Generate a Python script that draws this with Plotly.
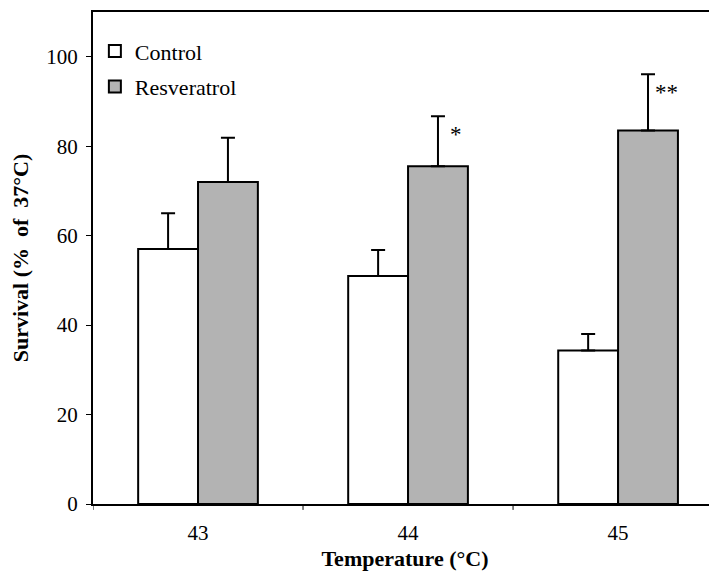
import plotly.graph_objects as go

temperatures = ["43", "44", "45"]
control = [57.0, 51.0, 34.3]
control_err = [8.0, 5.8, 3.7]
resveratrol = [72.0, 75.5, 83.5]
resveratrol_err = [9.9, 11.2, 12.6]
significance = ["", "*", "**"]

FONT = "Liberation Serif"

fig = go.Figure()
fig.add_trace(go.Bar(
    name="Control", x=temperatures, y=control,
    marker=dict(color="white", line=dict(color="black", width=2)),
    error_y=dict(type="data", symmetric=False, array=control_err,
                 arrayminus=[0] * len(control), color="black", thickness=2, width=7),
    legendgroup="a",
))
fig.add_trace(go.Bar(
    name="Resveratrol", x=temperatures, y=resveratrol,
    marker=dict(color="#b3b3b3", line=dict(color="black", width=2)),
    error_y=dict(type="data", symmetric=False, array=resveratrol_err,
                 arrayminus=[0] * len(resveratrol), color="black", thickness=2, width=7),
    legendgroup="b",
))

for i, s in enumerate(significance):
    if s:
        fig.add_annotation(
            x=i, xshift=48, y=resveratrol[i] + resveratrol_err[i], yshift=-18,
            text=s, showarrow=False,
            font=dict(family=FONT, size=23, color="black"),
        )

# page body has an 8px default margin, so the figure is sized 8px smaller
fig.update_layout(
    width=709, height=563,
    margin=dict(l=85, r=0, t=4, b=67, autoexpand=False),
    paper_bgcolor="white", plot_bgcolor="white",
    barmode="group", bargap=0.43, bargroupgap=0,
    font=dict(family=FONT, size=21, color="black"),
    showlegend=True,
    legend=dict(x=0.003, y=0.963, xanchor="left", yanchor="top",
                bgcolor="rgba(0,0,0,0)", font=dict(family=FONT, size=22),
                tracegroupgap=4, itemwidth=30),
    xaxis=dict(
        range=[-0.5, 2.471], automargin=False,
        showline=True, linecolor="black", linewidth=2, mirror=True,
        ticks="", showgrid=False,
        tickfont=dict(family=FONT, size=21),
        ticklabelstandoff=9,
        title=dict(text="<b>Temperature (°C)</b>", font=dict(family=FONT, size=22), standoff=14),
    ),
    yaxis=dict(
        range=[0, 110], tickvals=[0, 20, 40, 60, 80, 100], automargin=False,
        showline=True, linecolor="black", linewidth=2,
        ticks="outside", ticklen=5, tickwidth=1, tickcolor="black",
        showgrid=False, zeroline=False,
        tickfont=dict(family=FONT, size=21),
        ticklabelstandoff=4,
        title=dict(text="<b>Survival (%  of  37°C)</b>", font=dict(family=FONT, size=22), standoff=12),
    ),
)

# boundary ticks between categories on x axis
for b in [-0.5, 0.5, 1.5]:
    fig.add_shape(type="line", xref="x", yref="paper", x0=b, x1=b, y0=0, y1=-0.012,
                  line=dict(color="black", width=1))

fig.write_html("out.html")
